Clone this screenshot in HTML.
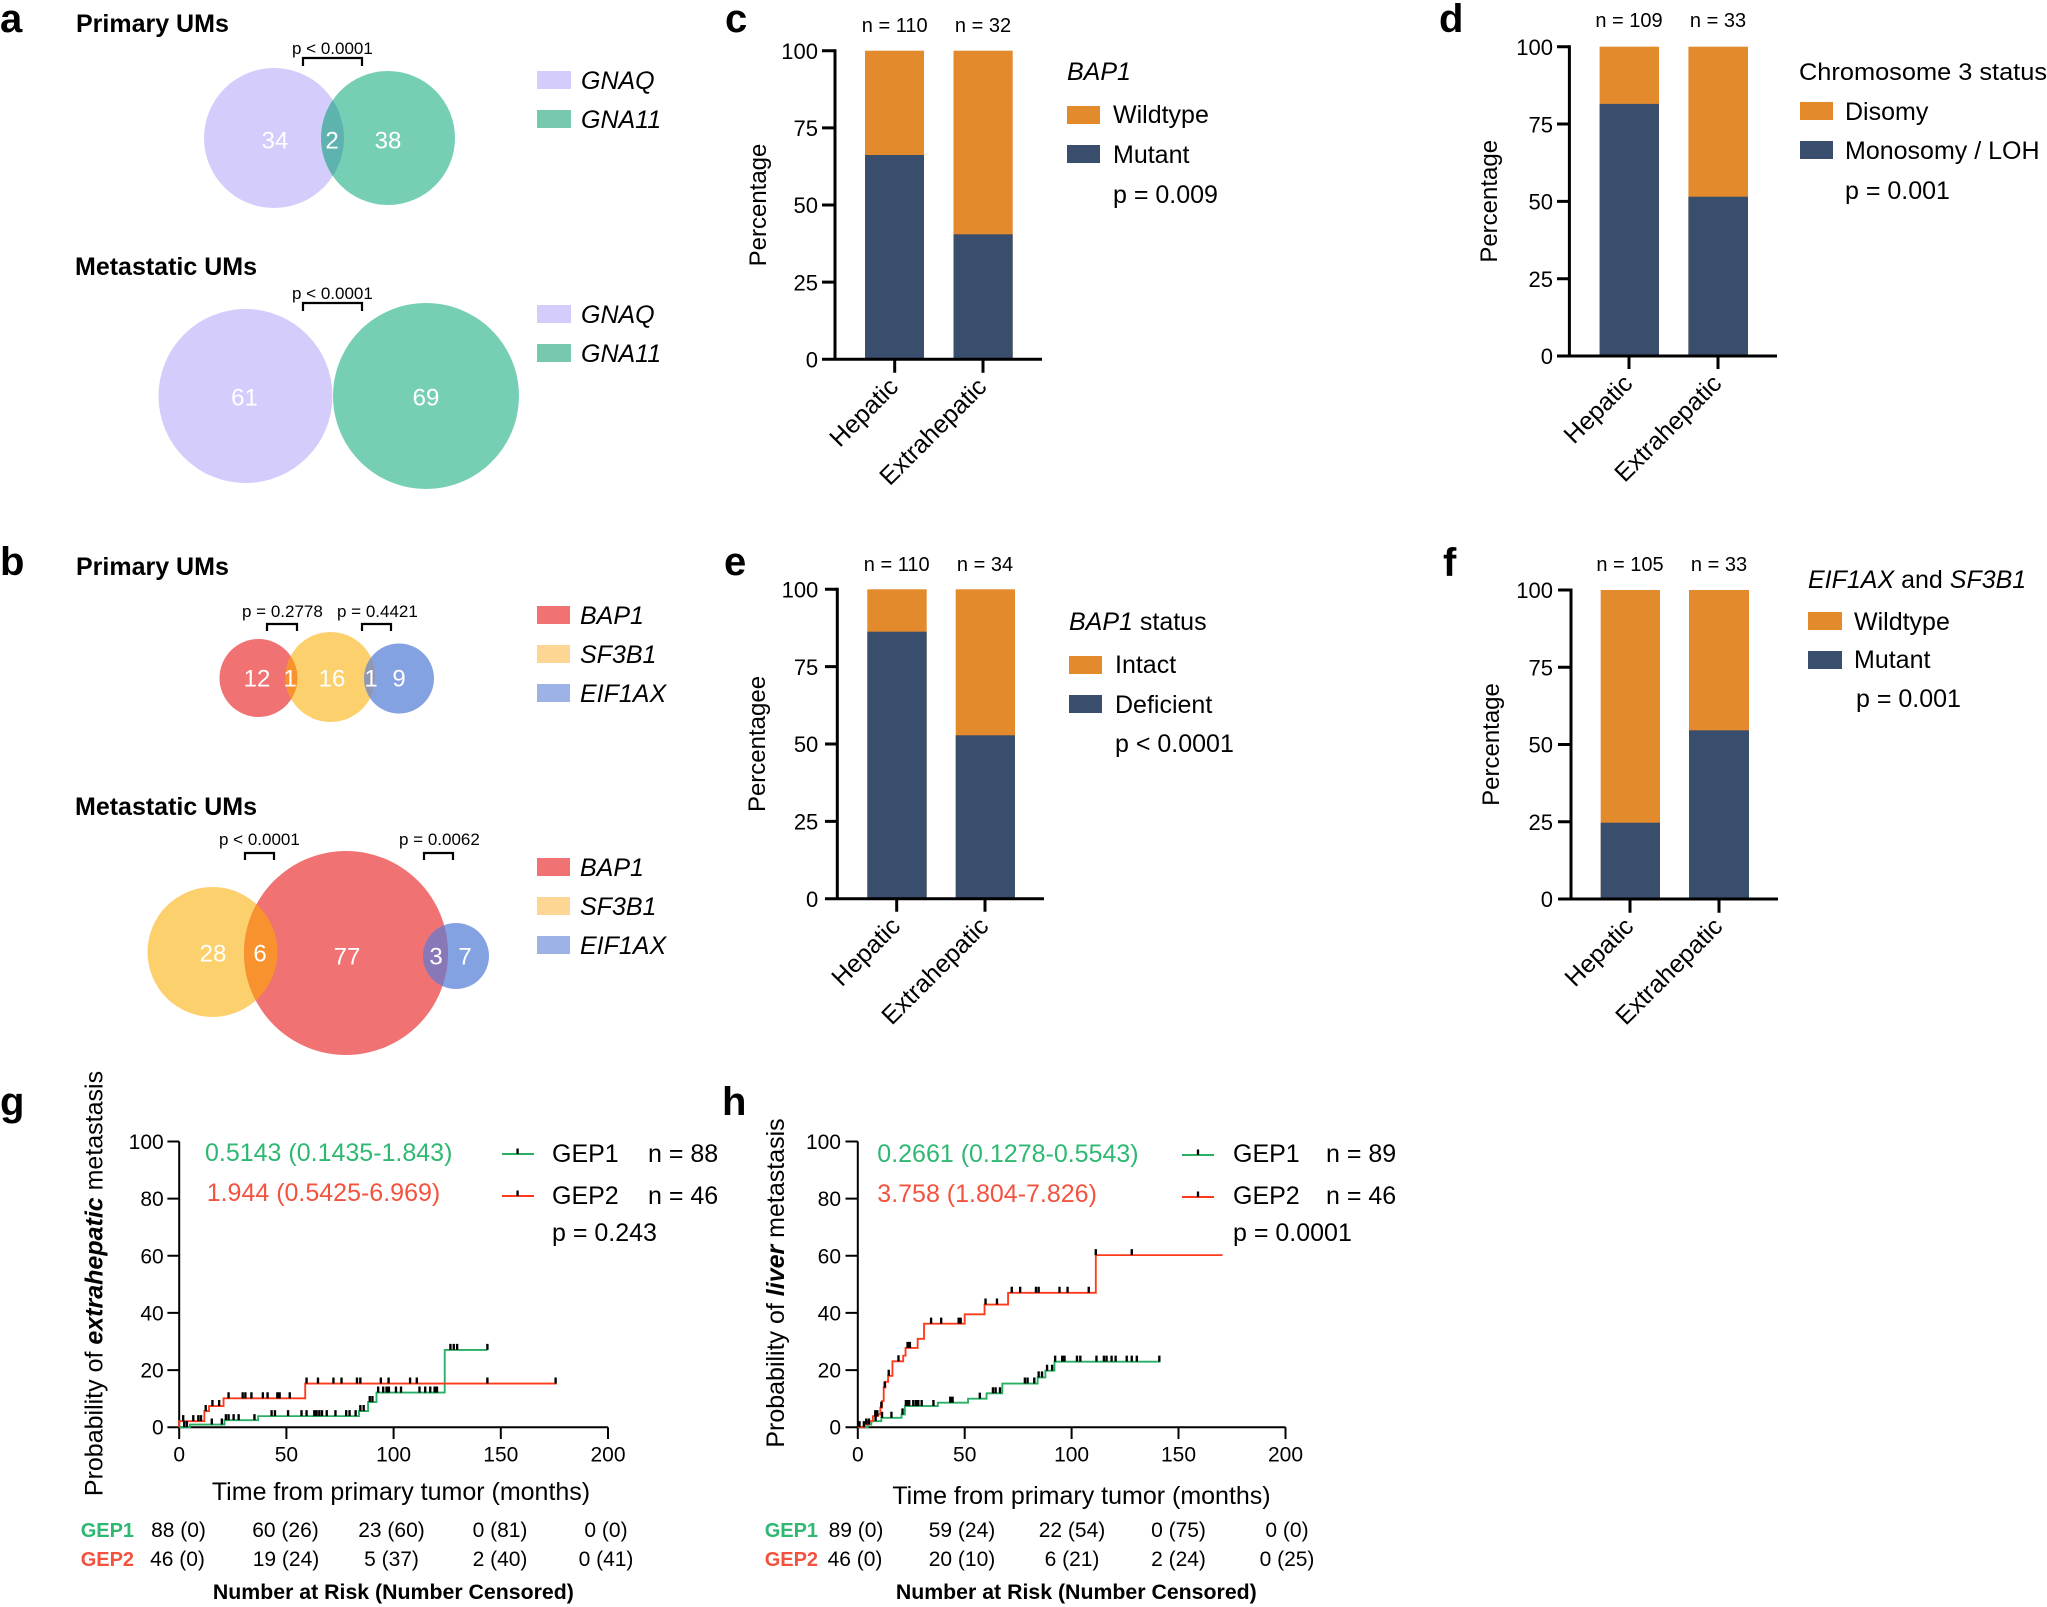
<!DOCTYPE html>
<html><head><meta charset="utf-8"><style>
html,body{margin:0;padding:0;background:#fff;}
svg{display:block;font-family:"Liberation Sans",Arial,sans-serif;}
</style></head><body>
<svg width="2047" height="1607" viewBox="0 0 2047 1607" xmlns="http://www.w3.org/2000/svg">
<defs>
<clipPath id="a1"><circle cx="274" cy="138" r="70"/></clipPath>
<clipPath id="b1r"><circle cx="258.5" cy="678" r="39"/></clipPath>
<clipPath id="b1b"><circle cx="399" cy="678.5" r="35"/></clipPath>
<clipPath id="b2y"><circle cx="212.5" cy="952" r="65"/></clipPath>
<clipPath id="b2b"><circle cx="456" cy="956" r="33"/></clipPath>
</defs>

<!-- Panel letters -->
<g font-weight="bold" font-size="40" fill="#000">
<text x="0" y="32">a</text>
<text x="0" y="575">b</text>
<text x="725" y="32">c</text>
<text x="1439" y="32">d</text>
<text x="724" y="575">e</text>
<text x="1443" y="576">f</text>
<text x="0" y="1115">g</text>
<text x="722" y="1115">h</text>
</g>

<!-- ============ Panel a ============ -->
<g font-weight="bold" font-size="25">
<text x="76" y="32">Primary UMs</text>
<text x="75" y="275">Metastatic UMs</text>
</g>
<g font-size="17">
<text x="292" y="54">p &lt; 0.0001</text>
<text x="292" y="299">p &lt; 0.0001</text>
</g>
<g fill="none" stroke="#000" stroke-width="2.2">
<path d="M303,66 V58 H362 V66"/>
<path d="M303,311 V303 H362 V311"/>
</g>
<circle cx="274" cy="138" r="70" fill="#d4ccfb"/>
<circle cx="388" cy="138" r="67" fill="#76cfb4"/>
<circle cx="388" cy="138" r="67" fill="#5fb3ae" clip-path="url(#a1)"/>
<circle cx="245.5" cy="396" r="87" fill="#d4ccfb"/>
<circle cx="426" cy="396" r="93" fill="#76cfb4"/>
<g fill="#fff" font-size="24" text-anchor="middle">
<text x="275" y="148.5">34</text>
<text x="332" y="148.5">2</text>
<text x="388" y="148.5">38</text>
<text x="244.5" y="405.5">61</text>
<text x="426" y="405.5">69</text>
</g>
<rect x="537" y="71" width="34" height="18" fill="#d4ccfb"/>
<rect x="537" y="110" width="34" height="18" fill="#76c9ae"/>
<rect x="537" y="305" width="34" height="18" fill="#d4ccfb"/>
<rect x="537" y="344" width="34" height="18" fill="#76c9ae"/>
<g font-size="25" font-style="italic">
<text x="581" y="89">GNAQ</text>
<text x="581" y="128">GNA11</text>
<text x="581" y="323">GNAQ</text>
<text x="581" y="362">GNA11</text>
</g>

<!-- ============ Panel b ============ -->
<g font-weight="bold" font-size="25">
<text x="76" y="575">Primary UMs</text>
<text x="75" y="815">Metastatic UMs</text>
</g>
<g font-size="17">
<text x="242" y="617">p = 0.2778</text>
<text x="337" y="617">p = 0.4421</text>
<text x="219" y="845">p &lt; 0.0001</text>
<text x="399" y="845">p = 0.0062</text>
</g>
<g fill="none" stroke="#000" stroke-width="2.2">
<path d="M267,631 V624 H297 V631"/>
<path d="M362,631 V624 H391 V631"/>
<path d="M245,860 V853 H274 V860"/>
<path d="M424,860 V853 H453 V860"/>
</g>
<!-- primary -->
<circle cx="258.5" cy="678" r="39" fill="#f07272"/>
<circle cx="399" cy="678.5" r="35" fill="#84a1e2"/>
<circle cx="330.5" cy="677" r="45" fill="#fdd06e"/>
<circle cx="330.5" cy="677" r="45" fill="#f7922f" clip-path="url(#b1r)"/>
<circle cx="330.5" cy="677" r="45" fill="#8e98b4" clip-path="url(#b1b)"/>
<!-- metastatic -->
<circle cx="212.5" cy="952" r="65" fill="#fdd06e"/>
<circle cx="456" cy="956" r="33" fill="#84a1e2"/>
<circle cx="346" cy="953" r="102" fill="#f07272"/>
<circle cx="346" cy="953" r="102" fill="#f7922f" clip-path="url(#b2y)"/>
<circle cx="346" cy="953" r="102" fill="#8878b8" clip-path="url(#b2b)"/>
<g fill="#fff" font-size="24" text-anchor="middle">
<text x="257" y="686.5">12</text>
<text x="290" y="686.5">1</text>
<text x="332" y="686.5">16</text>
<text x="371" y="686.5">1</text>
<text x="399" y="686.5">9</text>
<text x="213" y="961.5">28</text>
<text x="260" y="961.5">6</text>
<text x="347" y="964.5">77</text>
<text x="436" y="964.5">3</text>
<text x="465" y="964.5">7</text>
</g>
<rect x="537" y="606" width="33" height="18" fill="#f07272"/>
<rect x="537" y="645" width="33" height="18" fill="#fdd693"/>
<rect x="537" y="684" width="33" height="18" fill="#9db3e8"/>
<rect x="537" y="858" width="33" height="18" fill="#f07272"/>
<rect x="537" y="897" width="33" height="18" fill="#fdd693"/>
<rect x="537" y="936" width="33" height="18" fill="#9db3e8"/>
<g font-size="25" font-style="italic">
<text x="580" y="624">BAP1</text>
<text x="580" y="663">SF3B1</text>
<text x="580" y="702">EIF1AX</text>
<text x="580" y="876">BAP1</text>
<text x="580" y="915">SF3B1</text>
<text x="580" y="954">EIF1AX</text>
</g>

<!-- ============ Panel c ============ -->
<rect x="865" y="50.7" width="59" height="308.6" fill="#e38a2c"/>
<rect x="865" y="155" width="59" height="204.3" fill="#394d6d"/>
<rect x="953.5" y="50.7" width="59.2" height="308.6" fill="#e38a2c"/>
<rect x="953.5" y="234.3" width="59.2" height="125" fill="#394d6d"/>
<g stroke="#000" stroke-width="3" fill="none">
<path d="M835,49.2 V359.3 M822,359.3 H1042"/>
<path d="M822,50.7 H835 M822,127.85 H835 M822,205 H835 M822,282.15 H835"/>
<path d="M894.7,359.3 V372.7 M983,359.3 V372.7"/>
</g>
<g font-size="22" text-anchor="end">
<text x="818" y="59">100</text>
<text x="818" y="136">75</text>
<text x="818" y="213">50</text>
<text x="818" y="290.5">25</text>
<text x="818" y="367.5">0</text>
</g>
<text transform="translate(766,205) rotate(-90)" font-size="24" text-anchor="middle">Percentage</text>
<g font-size="20" text-anchor="middle">
<text x="894.7" y="32">n = 110</text>
<text x="983" y="32">n = 32</text>
</g>
<g font-size="25" text-anchor="end">
<text transform="translate(899.7,388.3) rotate(-45)">Hepatic</text>
<text transform="translate(988,388.3) rotate(-45)">Extrahepatic</text>
</g>
<text x="1067" y="80" font-size="25" font-style="italic">BAP1</text>
<rect x="1067" y="106" width="33" height="18" fill="#e38a2c"/>
<rect x="1067" y="145" width="33" height="18" fill="#394d6d"/>
<g font-size="25">
<text x="1113" y="123">Wildtype</text>
<text x="1113" y="163">Mutant</text>
<text x="1113" y="203">p = 0.009</text>
</g>

<!-- ============ Panel d ============ -->
<rect x="1599.6" y="46.7" width="59.4" height="309.3" fill="#e38a2c"/>
<rect x="1599.6" y="103.9" width="59.4" height="252.1" fill="#394d6d"/>
<rect x="1688.4" y="46.7" width="59.6" height="309.3" fill="#e38a2c"/>
<rect x="1688.4" y="196.7" width="59.6" height="159.3" fill="#394d6d"/>
<g stroke="#000" stroke-width="3" fill="none">
<path d="M1569.4,45.2 V356 M1557,356 H1777"/>
<path d="M1557,46.7 H1569.4 M1557,124 H1569.4 M1557,201.35 H1569.4 M1557,278.7 H1569.4"/>
<path d="M1629,356 V369 M1718,356 V369"/>
</g>
<g font-size="22" text-anchor="end">
<text x="1553" y="55">100</text>
<text x="1553" y="132.5">75</text>
<text x="1553" y="209.5">50</text>
<text x="1553" y="287">25</text>
<text x="1553" y="364">0</text>
</g>
<text transform="translate(1497,201.3) rotate(-90)" font-size="24" text-anchor="middle">Percentage</text>
<g font-size="20" text-anchor="middle">
<text x="1629" y="27">n = 109</text>
<text x="1718" y="27">n = 33</text>
</g>
<g font-size="25" text-anchor="end">
<text transform="translate(1634,385) rotate(-45)">Hepatic</text>
<text transform="translate(1723,385) rotate(-45)">Extrahepatic</text>
</g>
<text x="1799" y="80" font-size="24.5" textLength="248" lengthAdjust="spacingAndGlyphs">Chromosome 3 status</text>
<rect x="1800" y="102" width="33" height="18" fill="#e38a2c"/>
<rect x="1800" y="141" width="33" height="18" fill="#394d6d"/>
<g font-size="25">
<text x="1845" y="120">Disomy</text>
<text x="1845" y="159">Monosomy / LOH</text>
<text x="1845" y="199">p = 0.001</text>
</g>

<!-- ============ Panel e ============ -->
<rect x="867.3" y="589.3" width="59.4" height="309.4" fill="#e38a2c"/>
<rect x="867.3" y="631.7" width="59.4" height="267" fill="#394d6d"/>
<rect x="955.7" y="589.3" width="59.3" height="309.4" fill="#e38a2c"/>
<rect x="955.7" y="735.3" width="59.3" height="163.4" fill="#394d6d"/>
<g stroke="#000" stroke-width="3" fill="none">
<path d="M837.3,587.8 V898.7 M825,898.7 H1044"/>
<path d="M825,589.3 H837.3 M825,666.65 H837.3 M825,744 H837.3 M825,821.35 H837.3"/>
<path d="M896.7,898.7 V911.7 M985,898.7 V911.7"/>
</g>
<g font-size="22" text-anchor="end">
<text x="818.3" y="597.5">100</text>
<text x="818.3" y="675">75</text>
<text x="818.3" y="752">50</text>
<text x="818.3" y="829.5">25</text>
<text x="818.3" y="907">0</text>
</g>
<text transform="translate(765,744) rotate(-90)" font-size="24" text-anchor="middle">Percentagee</text>
<g font-size="20" text-anchor="middle">
<text x="896.7" y="571">n = 110</text>
<text x="985" y="571">n = 34</text>
</g>
<g font-size="25" text-anchor="end">
<text transform="translate(901.7,927.7) rotate(-45)">Hepatic</text>
<text transform="translate(990,927.7) rotate(-45)">Extrahepatic</text>
</g>
<text x="1069" y="630" font-size="25"><tspan font-style="italic">BAP1</tspan> status</text>
<rect x="1069" y="656" width="33" height="18" fill="#e38a2c"/>
<rect x="1069" y="695" width="33" height="18" fill="#394d6d"/>
<g font-size="25">
<text x="1115" y="673">Intact</text>
<text x="1115" y="713">Deficient</text>
<text x="1115" y="752">p &lt; 0.0001</text>
</g>

<!-- ============ Panel f ============ -->
<rect x="1600.7" y="590" width="59.3" height="309" fill="#e38a2c"/>
<rect x="1600.7" y="822.7" width="59.3" height="76.3" fill="#394d6d"/>
<rect x="1689" y="590" width="60" height="309" fill="#e38a2c"/>
<rect x="1689" y="730.3" width="60" height="168.7" fill="#394d6d"/>
<g stroke="#000" stroke-width="3" fill="none">
<path d="M1571,588.5 V899 M1558,899 H1778"/>
<path d="M1558,590 H1571 M1558,667.25 H1571 M1558,744.5 H1571 M1558,821.75 H1571"/>
<path d="M1630,899 V912.7 M1719,899 V912.7"/>
</g>
<g font-size="22" text-anchor="end">
<text x="1553" y="598">100</text>
<text x="1553" y="675.5">75</text>
<text x="1553" y="752.5">50</text>
<text x="1553" y="830">25</text>
<text x="1553" y="907">0</text>
</g>
<text transform="translate(1499,744.5) rotate(-90)" font-size="24" text-anchor="middle">Percentage</text>
<g font-size="20" text-anchor="middle">
<text x="1630" y="571">n = 105</text>
<text x="1719" y="571">n = 33</text>
</g>
<g font-size="25" text-anchor="end">
<text transform="translate(1635,928) rotate(-45)">Hepatic</text>
<text transform="translate(1724,928) rotate(-45)">Extrahepatic</text>
</g>
<text x="1808" y="588" font-size="25"><tspan font-style="italic">EIF1AX</tspan> and <tspan font-style="italic">SF3B1</tspan></text>
<rect x="1808" y="612" width="34" height="18" fill="#e38a2c"/>
<rect x="1808" y="651" width="34" height="18" fill="#394d6d"/>
<g font-size="25">
<text x="1854" y="630">Wildtype</text>
<text x="1854" y="668">Mutant</text>
<text x="1856" y="707">p = 0.001</text>
</g>

<!-- ============ Panel g ============ -->
<g stroke="#000" stroke-width="2" fill="none">
<path d="M179.2,1141.5 V1427.2 H608"/>
<path d="M167.4,1141.5 H179.2 M167.4,1198.6 H179.2 M167.4,1255.8 H179.2 M167.4,1312.9 H179.2 M167.4,1370.1 H179.2 M167.4,1427.2 H179.2"/>
<path d="M179.2,1427.2 V1439 M286.4,1427.2 V1439 M393.6,1427.2 V1439 M500.8,1427.2 V1439 M608,1427.2 V1439"/>
</g>
<g font-size="21" text-anchor="end">
<text x="163.7" y="1149">100</text>
<text x="163.7" y="1206">80</text>
<text x="163.7" y="1263.3">60</text>
<text x="163.7" y="1320.4">40</text>
<text x="163.7" y="1377.6">20</text>
<text x="163.7" y="1434.7">0</text>
</g>
<g font-size="21" text-anchor="middle">
<text x="179.2" y="1461.5">0</text>
<text x="286.4" y="1461.5">50</text>
<text x="393.6" y="1461.5">100</text>
<text x="500.8" y="1461.5">150</text>
<text x="608" y="1461.5">200</text>
</g>
<text x="401" y="1500" font-size="25" text-anchor="middle">Time from primary tumor (months)</text>
<text transform="translate(102.6,1283.5) rotate(-90)" font-size="25" text-anchor="middle">Probability of <tspan font-weight="bold" font-style="italic">extrahepatic</tspan> metastasis</text>
<g transform="translate(0,1080) scale(0.336134)">
<path d="M533,1033 H565 V1025 H668 V1012 H768 V1000 H1068 V985 H1095 V958 H1120 V930 H1323 V803 H1450" fill="none" stroke="#27b063" stroke-width="5.5"/>
<path d="M533,1033 V1015 H608 V985 H622 V970 H665 V947 H908 V903 H1656" fill="none" stroke="#ff3a1a" stroke-width="5.5"/>
<path fill="none" stroke="#000" stroke-width="7" d="M548,1015V1033 M556,1015V1033 M630,1007V1025 M660,1007V1025 M672,994V1012 M680,994V1012 M695,994V1012 M710,994V1012 M757,994V1012 M808,982V1000 M818,982V1000 M857,982V1000 M897,982V1000 M912,982V1000 M935,982V1000 M942,982V1000 M950,982V1000 M958,982V1000 M972,982V1000 M998,982V1000 M1030,982V1000 M1040,982V1000 M1058,982V1000 M1072,967V985 M1082,967V985 M1100,940V958 M1108,940V958 M1125,912V930 M1140,912V930 M1150,912V930 M1157,912V930 M1178,912V930 M1193,912V930 M1248,912V930 M1265,912V930 M1280,912V930 M1293,912V930 M1300,912V930 M1340,785V803 M1350,785V803 M1360,785V803 M1450,785V803"/>
<path fill="none" stroke="#000" stroke-width="7" d="M545,997V1015 M575,997V1015 M590,997V1015 M598,997V1015 M612,967V985 M632,952V970 M652,952V970 M680,929V947 M722,929V947 M730,929V947 M748,929V947 M782,929V947 M796,929V947 M825,929V947 M832,929V947 M862,929V947 M912,885V903 M946,885V903 M992,885V903 M1016,885V903 M1062,885V903 M1072,885V903 M1133,885V903 M1156,885V903 M1220,885V903 M1240,885V903 M1450,885V903 M1653,885V903"/>
</g>
<g font-size="25">
<text x="205" y="1161" fill="#2eb872">0.5143 (0.1435-1.843)</text>
<text x="206.7" y="1201" fill="#f3533e">1.944 (0.5425-6.969)</text>
<text x="552" y="1162">GEP1</text>
<text x="648" y="1162">n = 88</text>
<text x="552" y="1204">GEP2</text>
<text x="648" y="1204">n = 46</text>
<text x="552" y="1241">p = 0.243</text>
</g>
<path d="M502,1154 H534" stroke="#27b063" stroke-width="2"/>
<path d="M502,1196 H534" stroke="#ff3a1a" stroke-width="2"/>
<path d="M517.6,1148.5 V1154 M517.6,1190.5 V1196" stroke="#000" stroke-width="2.3"/>
<g font-size="20" font-weight="bold">
<text x="80.7" y="1537" fill="#2eb872">GEP1</text>
<text x="80.7" y="1566" fill="#f3533e">GEP2</text>
</g>
<g font-size="21" text-anchor="middle">
<text x="178.5" y="1537">88 (0)</text>
<text x="285.5" y="1537">60 (26)</text>
<text x="391.5" y="1537">23 (60)</text>
<text x="500" y="1537">0 (81)</text>
<text x="606" y="1537">0 (0)</text>
<text x="177.5" y="1566">46 (0)</text>
<text x="286" y="1566">19 (24)</text>
<text x="391.5" y="1566">5 (37)</text>
<text x="500" y="1566">2 (40)</text>
<text x="606" y="1566">0 (41)</text>
</g>
<text x="393.4" y="1599" font-size="21.3" font-weight="bold" text-anchor="middle">Number at Risk (Number Censored)</text>

<!-- ============ Panel h ============ -->
<g stroke="#000" stroke-width="2" fill="none">
<path d="M857.8,1141.5 V1427.2 H1285.5"/>
<path d="M845.5,1141.5 H857.8 M845.5,1198.6 H857.8 M845.5,1255.8 H857.8 M845.5,1312.9 H857.8 M845.5,1370.1 H857.8 M845.5,1427.2 H857.8"/>
<path d="M857.8,1427.2 V1439 M964.7,1427.2 V1439 M1071.6,1427.2 V1439 M1178.5,1427.2 V1439 M1285.5,1427.2 V1439"/>
</g>
<g font-size="21" text-anchor="end">
<text x="841" y="1149">100</text>
<text x="841" y="1206">80</text>
<text x="841" y="1263.3">60</text>
<text x="841" y="1320.4">40</text>
<text x="841" y="1377.6">20</text>
<text x="841" y="1434.7">0</text>
</g>
<g font-size="21" text-anchor="middle">
<text x="857.8" y="1461.5">0</text>
<text x="964.7" y="1461.5">50</text>
<text x="1071.6" y="1461.5">100</text>
<text x="1178.5" y="1461.5">150</text>
<text x="1285.5" y="1461.5">200</text>
</g>
<text x="1081.5" y="1504" font-size="25" text-anchor="middle">Time from primary tumor (months)</text>
<text transform="translate(784,1283) rotate(-90)" font-size="25" text-anchor="middle">Probability of <tspan font-weight="bold" font-style="italic">liver</tspan> metastasis</text>
<g transform="translate(720,1080) scale(0.336134)">
<path d="M410,1033 H440 V1025 H450 V1015 H480 V1005 H540 V995 H550 V970 H648 V960 H738 V948 H793 V932 H840 V903 H945 V885 H968 V865 H995 V838 H1310" fill="none" stroke="#27b063" stroke-width="5.5"/>
<path d="M410,1033 H430 V1025 H440 V1015 H455 V1000 H470 V995 H477 V975 H482 V955 H487 V915 H492 V898 H500 V880 H513 V837 H545 V820 H552 V797 H588 V770 H607 V725 H728 V697 H787 V668 H857 V633 H1118 V521 H1495" fill="none" stroke="#ff3a1a" stroke-width="5.5"/>
<path fill="none" stroke="#000" stroke-width="7" d="M415,1015V1033 M428,1015V1033 M443,1007V1025 M463,997V1015 M482,987V1005 M510,987V1005 M543,977V995 M553,952V970 M557,952V970 M563,952V970 M575,952V970 M583,952V970 M590,952V970 M600,952V970 M635,952V970 M685,942V960 M692,942V960 M773,930V948 M812,914V932 M820,914V932 M833,914V932 M907,885V903 M915,885V903 M935,885V903 M948,867V885 M958,867V885 M973,847V865 M988,847V865 M997,820V838 M1018,820V838 M1025,820V838 M1062,820V838 M1072,820V838 M1120,820V838 M1142,820V838 M1150,820V838 M1165,820V838 M1177,820V838 M1210,820V838 M1225,820V838 M1240,820V838 M1307,820V838"/>
<path fill="none" stroke="#000" stroke-width="7" d="M435,1007V1025 M462,982V1000 M468,982V1000 M480,957V975 M490,897V915 M502,862V880 M531,819V837 M558,779V797 M565,779V797 M628,707V725 M658,707V725 M710,707V725 M716,707V725 M790,650V668 M824,650V668 M868,615V633 M893,615V633 M940,615V633 M948,615V633 M1010,615V633 M1034,615V633 M1097,615V633 M1118,503V521 M1225,503V521"/>
</g>
<g font-size="25">
<text x="877.3" y="1162" fill="#2eb872">0.2661 (0.1278-0.5543)</text>
<text x="877.3" y="1202" fill="#f3533e">3.758 (1.804-7.826)</text>
<text x="1233" y="1162">GEP1</text>
<text x="1326" y="1162">n = 89</text>
<text x="1233" y="1204">GEP2</text>
<text x="1326" y="1204">n = 46</text>
<text x="1233" y="1241">p = 0.0001</text>
</g>
<path d="M1182,1155 H1214" stroke="#27b063" stroke-width="2"/>
<path d="M1182,1197 H1214" stroke="#ff3a1a" stroke-width="2"/>
<path d="M1198,1149.5 V1155 M1198,1191.5 V1197" stroke="#000" stroke-width="2.3"/>
<g font-size="20" font-weight="bold">
<text x="764.7" y="1537" fill="#2eb872">GEP1</text>
<text x="764.7" y="1566" fill="#f3533e">GEP2</text>
</g>
<g font-size="21" text-anchor="middle">
<text x="856" y="1537">89 (0)</text>
<text x="962" y="1537">59 (24)</text>
<text x="1072" y="1537">22 (54)</text>
<text x="1178.5" y="1537">0 (75)</text>
<text x="1287" y="1537">0 (0)</text>
<text x="855" y="1566">46 (0)</text>
<text x="962" y="1566">20 (10)</text>
<text x="1072" y="1566">6 (21)</text>
<text x="1178.5" y="1566">2 (24)</text>
<text x="1287" y="1566">0 (25)</text>
</g>
<text x="1076.3" y="1599" font-size="21.3" font-weight="bold" text-anchor="middle">Number at Risk (Number Censored)</text>
</svg>
</body></html>
